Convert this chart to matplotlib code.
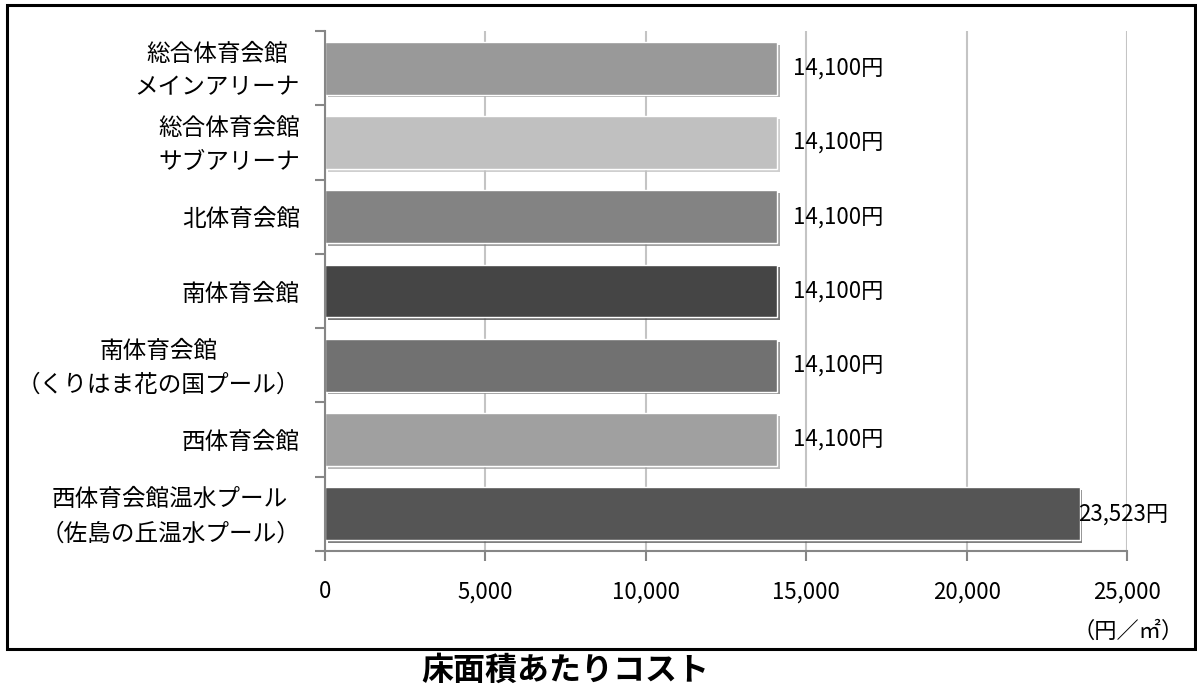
import matplotlib
matplotlib.use("Agg")
import matplotlib.pyplot as plt
import matplotlib.patheffects as pe
import matplotlib.transforms as mtransforms
from matplotlib.ticker import FuncFormatter, FixedLocator
from matplotlib.patches import Rectangle

plt.rcParams['font.family'] = ['Noto Sans CJK JP', 'DejaVu Sans']

categories = ["総合体育会館\nメインアリーナ", "総合体育会館\nサブアリーナ", "北体育会館", "南体育会館",
              "南体育会館\n（くりはま花の国プール）", "西体育会館",
              "西体育会館温水プール\n（佐島の丘温水プール）"]
values = [14100, 14100, 14100, 14100, 14100, 14100, 23523]
colors = ["#999999", "#c0c0c0", "#838383", "#454545", "#717171", "#a0a0a0", "#555555"]
label_offsets = [11, 11, 11, 11, 11, 11, -1]
xticks = [0, 5000, 10000, 15000, 20000, 25000]

W, H = 1197, 688
fig = plt.figure(figsize=(W / 100, H / 100), dpi=100)
ax = fig.add_axes([325 / W, 1 - 551 / H, 802 / W, 520 / H])

ypos = list(range(len(categories)))
bars = ax.barh(ypos, values, height=0.71, color=colors, edgecolor="white", linewidth=1.0, zorder=3)
for b, c in zip(bars, colors):
    b.set_path_effects([pe.SimplePatchShadow(offset=(2, -2), shadow_rgbFace=c, alpha=0.75), pe.Normal()])

for y, v, off in zip(ypos, values, label_offsets):
    ax.annotate(f"{v:,}円", xy=(v, y), xytext=(off, 0), textcoords="offset points",
                ha="left", va="center", fontsize=16, color="black", zorder=5)

ax.set_xlim(0, 25000)
ax.set_ylim(len(categories) - 0.5, -0.5)
ax.set_xticks(xticks)
ax.xaxis.set_major_formatter(FuncFormatter(lambda v, p: f"{int(v):,}"))
ax.set_yticks(ypos)
ax.set_yticklabels(categories, fontsize=17, linespacing=1.6, multialignment="center")
ax.yaxis.set_minor_locator(FixedLocator([i - 0.5 for i in range(len(categories) + 1)]))
ax.tick_params(axis="y", which="major", length=0, pad=18)
ax.tick_params(axis="y", which="minor", length=7, width=1.5, color="#868686", direction="out")
ax.tick_params(axis="x", which="major", length=7, width=1.5, color="#868686", direction="out",
               pad=14, labelsize=16)
shift = mtransforms.ScaledTranslation(0, -3 / 100, fig.dpi_scale_trans)
for t in ax.get_yticklabels():
    t.set_verticalalignment("center")
    t.set_transform(t.get_transform() + shift)

ax.grid(axis="x", color="#c4c4c4", linewidth=1.5, zorder=0)
ax.set_axisbelow(True)
for s in ["top", "right"]:
    ax.spines[s].set_visible(False)
for s in ["left", "bottom"]:
    ax.spines[s].set_color("#868686")
    ax.spines[s].set_linewidth(1.5)
    ax.spines[s].set_zorder(4)

fig.text(1128 / W, 1 - 631 / H, "（円／㎡）", ha="center", va="center", fontsize=16)
fig.text(565 / W, 1 - 671 / H, "床面積あたりコスト", ha="center", va="center", fontsize=23,
         fontweight="bold")

fig.add_artist(Rectangle((7 / W, 1 - 649 / H), 1188 / W, 644 / H, transform=fig.transFigure,
                         fill=False, edgecolor="black", linewidth=2.2))

fig.savefig("out.png", dpi=100)
